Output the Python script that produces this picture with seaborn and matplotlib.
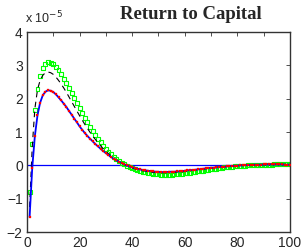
import matplotlib
matplotlib.use("Agg")
import matplotlib.pyplot as plt
import seaborn as sns
import pandas as pd

# horizon (quarters)
periods = list(range(1, 101))

# model response (blue line / red dots), units of 1e-5
model = [-1.55, -0.08, 0.88, 1.50, 1.88, 2.10, 2.21, 2.25, 2.24, 2.20,
         2.13, 2.04, 1.95, 1.85, 1.75, 1.63, 1.52, 1.40, 1.29, 1.17,
         1.07, 0.97, 0.88, 0.80, 0.72, 0.64, 0.57, 0.50, 0.43, 0.37,
         0.31, 0.25, 0.20, 0.15, 0.11, 0.07, 0.03, 0.00, -0.03, -0.06,
         -0.08, -0.10, -0.12, -0.14, -0.15, -0.16, -0.17, -0.18, -0.19, -0.19,
         -0.20, -0.20, -0.20, -0.19, -0.19, -0.19, -0.18, -0.18, -0.17, -0.16,
         -0.15, -0.14, -0.14, -0.13, -0.12, -0.11, -0.10, -0.09, -0.08, -0.07,
         -0.07, -0.06, -0.05, -0.04, -0.04, -0.03, -0.02, -0.02, -0.01, -0.01,
         0.00, 0.00, 0.01, 0.01, 0.01, 0.02, 0.02, 0.02, 0.02, 0.03,
         0.03, 0.03, 0.03, 0.03, 0.03, 0.03, 0.03, 0.02, 0.02, 0.02]

# dashed black response
dashed = [-1.25, 0.55, 1.70, 2.27, 2.55, 2.70, 2.78, 2.80, 2.78, 2.73,
          2.65, 2.55, 2.44, 2.32, 2.19, 2.05, 1.91, 1.77, 1.63, 1.49,
          1.36, 1.23, 1.11, 0.99, 0.88, 0.78, 0.68, 0.59, 0.50, 0.42,
          0.35, 0.28, 0.22, 0.16, 0.11, 0.07, 0.03, -0.01, -0.04, -0.07,
          -0.10, -0.12, -0.14, -0.16, -0.17, -0.19, -0.20, -0.21, -0.21, -0.22,
          -0.22, -0.22, -0.22, -0.22, -0.21, -0.21, -0.20, -0.19, -0.19, -0.18,
          -0.17, -0.16, -0.15, -0.14, -0.13, -0.12, -0.11, -0.10, -0.09, -0.08,
          -0.07, -0.06, -0.06, -0.05, -0.04, -0.03, -0.03, -0.02, -0.01, -0.01,
          0.00, 0.00, 0.01, 0.01, 0.01, 0.02, 0.02, 0.02, 0.02, 0.02,
          0.03, 0.03, 0.03, 0.03, 0.03, 0.03, 0.03, 0.03, 0.03, 0.03]

# green squares
green = [-0.80, 0.65, 1.65, 2.30, 2.68, 2.92, 3.05, 3.10, 3.08, 3.03,
         2.95, 2.85, 2.73, 2.60, 2.46, 2.32, 2.17, 2.02, 1.87, 1.72,
         1.57, 1.43, 1.29, 1.16, 1.03, 0.91, 0.80, 0.69, 0.59, 0.50,
         0.41, 0.33, 0.26, 0.19, 0.13, 0.08, 0.03, -0.01, -0.05, -0.09,
         -0.12, -0.15, -0.17, -0.19, -0.21, -0.23, -0.24, -0.25, -0.26, -0.27,
         -0.28, -0.28, -0.28, -0.28, -0.28, -0.27, -0.27, -0.26, -0.25, -0.24,
         -0.23, -0.22, -0.21, -0.20, -0.18, -0.17, -0.16, -0.14, -0.13, -0.12,
         -0.11, -0.10, -0.08, -0.07, -0.06, -0.05, -0.05, -0.04, -0.03, -0.02,
         -0.02, -0.01, -0.01, 0.00, 0.00, 0.01, 0.01, 0.01, 0.02, 0.02,
         0.02, 0.02, 0.02, 0.03, 0.03, 0.03, 0.03, 0.03, 0.03, 0.03]

df = pd.DataFrame({"t": periods, "model": model, "dashed": dashed, "green": green})

sns.set_style("white")
plt.rcParams['font.family'] = ['Liberation Sans', 'DejaVu Sans']

fig = plt.figure(figsize=(3.03, 2.52), dpi=100)
ax = fig.add_axes([0.089, 0.079, 0.868, 0.794])

ax.axhline(0, color='#0000ff', lw=0.9, zorder=1)
sns.scatterplot(data=df, x="t", y="green", marker='s', s=8, facecolors='none',
                edgecolor='#00ff00', linewidth=0.8, ax=ax, zorder=2)
sns.lineplot(data=df, x="t", y="dashed", color='black', lw=0.8, ax=ax, zorder=3,
             linestyle=(0, (5, 4)))
sns.lineplot(data=df, x="t", y="model", color='#0000ff', lw=1.3, ax=ax, zorder=4)
sns.scatterplot(data=df, x="t", y="model", marker='s', s=4, color='#ff0000',
                edgecolor='#ff0000', linewidth=0.2, ax=ax, zorder=5)

ax.set_xlim(0, 100)
ax.set_ylim(-2, 4)
ax.set_xticks([0, 20, 40, 60, 80, 100])
ax.set_xticks(range(10, 100, 20), minor=True)
ax.set_yticks(range(-2, 5))
ax.tick_params(direction='in', top=True, right=True, length=3, width=0.6,
               labelsize=10, pad=3, which='both', color='#333333')
ax.set_xlabel("")
ax.set_ylabel("")
for s in ax.spines.values():
    s.set_linewidth(1.0)
    s.set_color('#333333')

fig.text(0.63, 0.91, "Return to Capital", fontsize=13.5, fontweight='bold',
         family='Liberation Serif', ha='center', va='bottom')
fig.text(0.083, 0.895, r"x 10$^{-5}$", fontsize=9, ha='left', va='bottom')

fig.savefig("out.png", dpi=100)
